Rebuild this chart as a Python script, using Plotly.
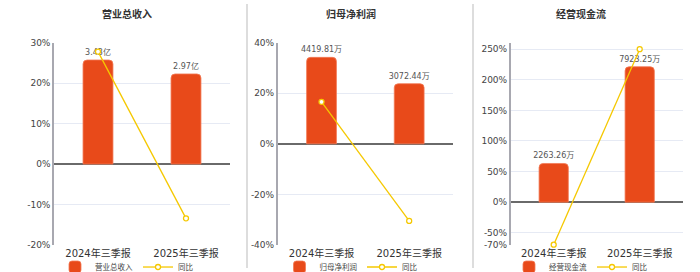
import plotly.graph_objects as go

categories = ["2024年三季报", "2025年三季报"]

titles = ["营业总收入", "归母净利润", "经营现金流"]
bar_values = [[3.43, 2.97], [4419.81, 3072.44], [2263.26, 7923.25]]
bar_units = ["亿", "万", "万"]
yoy_values = [[27.8, -13.41], [16.6, -30.48], [-69.5, 250.08]]

pct_ranges = [[-20, 30], [-40, 40], [-70, 260.6]]
pct_ticks = [[-20, -10, 0, 10, 20, 30], [-40, -20, 0, 20, 40], [-70, -50, 0, 50, 100, 150, 200, 250]]
bar_per_pct = [4.0 / 30, 4419.81 / 34.2, 7923.25 / 221.3]

x_domains = [[54 / 700, 230 / 700], [277.7 / 700, 453 / 700], [510.7 / 700, 682.7 / 700]]
panel_centers = [127 / 700, 351 / 700, 581 / 700]
y_domain = [1 - 245 / 272, 1 - 42.7 / 272]

BAR_COLOR = "#E84A1A"
LINE_COLOR = "#F5C800"
FONT = "DejaVu Sans, Noto Sans CJK SC, sans-serif"

fig = go.Figure()
layout = dict(
    width=700, height=272, margin=dict(l=0, r=0, t=0, b=0, autoexpand=False),
    paper_bgcolor="white", plot_bgcolor="white",
    font=dict(family=FONT, color="#333"),
    showlegend=True, annotations=[], shapes=[],
)

for i in range(3):
    xa = "x" if i == 0 else f"x{i+1}"
    yb_n = 2 * i + 1
    yp_n = 2 * i + 2
    yb = "y" if yb_n == 1 else f"y{yb_n}"
    yp = f"y{yp_n}"
    lg = "legend" if i == 0 else f"legend{i+1}"

    fig.add_trace(go.Bar(
        x=categories, y=bar_values[i], xaxis=xa, yaxis=yb,
        name=titles[i], legend=lg,
        marker=dict(color=BAR_COLOR, cornerradius=4, line=dict(color="#F27A55", width=0.8)),
        width=0.34,
        text=[f"{v:.2f}{bar_units[i]}" for v in bar_values[i]],
        textposition="outside", textfont=dict(size=8, color="#555"),
        constraintext="none", cliponaxis=False,
    ))
    fig.add_trace(go.Scatter(
        x=categories, y=yoy_values[i], xaxis=xa, yaxis=yp,
        name="同比", legend=lg, mode="lines+markers",
        line=dict(color=LINE_COLOR, width=1.3),
        marker=dict(symbol="circle", size=5, color="white", line=dict(color=LINE_COLOR, width=1.3)),
        cliponaxis=False,
    ))

    lo, hi = pct_ranges[i]
    k = bar_per_pct[i]
    xkey = "xaxis" if i == 0 else f"xaxis{i+1}"
    ybkey = "yaxis" if yb_n == 1 else f"yaxis{yb_n}"
    ypkey = f"yaxis{yp_n}"
    layout[xkey] = dict(
        domain=x_domains[i], anchor=yb, type="category", range=[-0.5, 1.5],
        showgrid=False, showline=False, zeroline=False, ticks="",
        tickfont=dict(size=10, color="#333"), ticklabelstandoff=1,
    )
    layout[ybkey] = dict(
        domain=y_domain, anchor=xa, range=[lo * k, hi * k],
        showgrid=False, showticklabels=False, zeroline=False, showline=False,
    )
    layout[ypkey] = dict(
        overlaying=yb, anchor=xa, side="left", range=[lo, hi],
        tickmode="array", tickvals=pct_ticks[i], ticktext=[f"{t}%" for t in pct_ticks[i]],
        showgrid=True, gridcolor="#E6EAF4", gridwidth=1,
        zeroline=True, zerolinecolor="#6a6a6a", zerolinewidth=1.5,
        showline=True, linecolor="#A8A8B0", linewidth=1.5,
        tickfont=dict(size=9, color="#444"), ticks="",
    )
    layout[lg] = dict(
        orientation="h", x=panel_centers[i], xanchor="center", y=-0.035, yanchor="bottom",
        font=dict(size=7.5, color="#444"), bgcolor="rgba(0,0,0,0)",
        itemwidth=30, tracegroupgap=0,
    )
    layout["annotations"].append(dict(
        text=f"<b>{titles[i]}</b>", x=panel_centers[i], y=1 - 14 / 272,
        xref="paper", yref="paper", xanchor="center", yanchor="middle",
        showarrow=False, font=dict(size=10, color="#333"),
    ))

for sx in [247 / 700, 473 / 700]:
    layout["shapes"].append(dict(
        type="line", xref="paper", yref="paper", x0=sx, x1=sx, y0=0.015, y1=0.985,
        line=dict(color="#DDDDDD", width=2),
    ))

fig.update_layout(**layout)
fig.write_html("out.html")
